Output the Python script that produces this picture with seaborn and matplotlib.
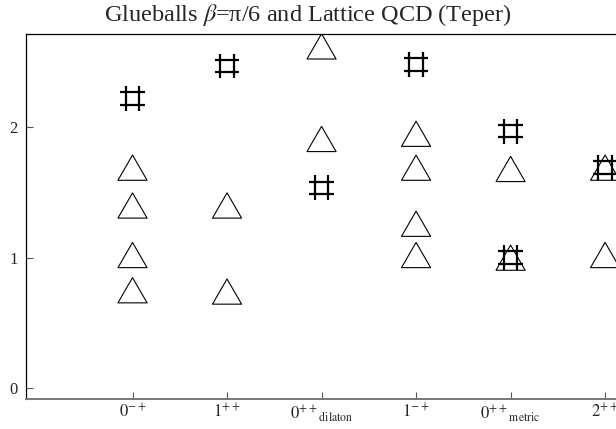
import numpy as np
import pandas as pd
import matplotlib
matplotlib.use("Agg")
import matplotlib.pyplot as plt
from matplotlib.path import Path
import seaborn as sns

# ---- data ----
categories = ["0-+", "1++", "0++dilaton", "1-+", "0++metric", "2++"]
tick_labels = [r"$0^{-+}$", r"$1^{++}$", r"$0^{++}{}_{\mathrm{dilaton}}$",
               r"$1^{-+}$", r"$0^{++}{}_{\mathrm{metric}}$", r"$2^{++}$"]

# Glueball masses (triangles)
glue_cat = ["0-+", "0-+", "0-+", "0-+",
            "1++", "1++",
            "0++dilaton", "0++dilaton",
            "1-+", "1-+", "1-+", "1-+",
            "0++metric", "0++metric",
            "2++", "2++"]
glue_val = [1.69, 1.40, 1.02, 0.75,
            1.40, 0.74,
            2.62, 1.91,
            1.95, 1.69, 1.26, 1.02,
            1.68, 1.00,
            1.69, 1.02]

# Lattice QCD (Teper) (hash marks)
latt_cat = ["0-+", "1++", "0++dilaton", "1-+", "0++metric", "0++metric", "2++"]
latt_val = [2.22, 2.47, 1.535, 2.48, 1.97, 1.00, 1.69]

title = "Glueballs $\\beta$=\u03c0/6 and Lattice QCD (Teper)"

# ---- style ----
sns.set_theme(style="white")
plt.rcParams["font.family"] = ["Liberation Serif", "DejaVu Serif"]
plt.rcParams["mathtext.fontset"] = "stix"

pos = {c: i + 1 for i, c in enumerate(categories)}
glue = pd.DataFrame({"cat": glue_cat, "mass": glue_val})
glue["x"] = glue["cat"].map(pos)
latt = pd.DataFrame({"cat": latt_cat, "mass": latt_val})
latt["x"] = latt["cat"].map(pos)

tri = Path([(-1, -0.866), (1, -0.866), (0, 0.866), (-1, -0.866)],
           [Path.MOVETO, Path.LINETO, Path.LINETO, Path.CLOSEPOLY])
hv = 0.55
hh = 0.5
hash_path = Path([(-hv, -1), (-hv, 1), (hv, -1), (hv, 1),
                  (-1, -hh), (1, -hh), (-1, hh), (1, hh)],
                 [Path.MOVETO, Path.LINETO, Path.MOVETO, Path.LINETO,
                  Path.MOVETO, Path.LINETO, Path.MOVETO, Path.LINETO])

fig = plt.figure(figsize=(6.16, 4.29), dpi=100)
ax = fig.add_axes([26 / 616, 1 - 399 / 429, (624 - 26) / 616, (399 - 34) / 429])

sns.scatterplot(data=glue, x="x", y="mass", marker=tri, s=440,
                facecolors="none", edgecolors="black", linewidths=0.8,
                ax=ax, legend=False, zorder=3)
sns.scatterplot(data=latt, x="x", y="mass", marker=hash_path, s=320,
                facecolors="none", edgecolors="black", linewidths=1.6,
                ax=ax, legend=False, zorder=4)

ax.set_xlim(-0.127, 6.2)
ax.set_ylim(-0.084, 2.715)
ax.set_xticks(range(1, len(categories) + 1))
ax.set_xticklabels(tick_labels)
ax.set_yticks([0, 1, 2])
ax.set_yticklabels(["0", "1", "2"])
ax.set_xlabel("")
ax.set_ylabel("")

ax.tick_params(axis="x", direction="in", length=5, width=0.8, color="#555555",
               pad=3, labelsize=12, bottom=True)
ax.tick_params(axis="y", direction="in", length=5, width=0.8, color="#555555",
               pad=6, labelsize=12, left=True)

for side in ["left", "top"]:
    ax.spines[side].set_color("black")
    ax.spines[side].set_linewidth(0.9)
ax.spines["bottom"].set_color("#777777")
ax.spines["bottom"].set_linewidth(1.4)
ax.spines["right"].set_visible(False)

fig.text(0.5, 1 - 2 / 429, title, fontsize=17.5, ha="center", va="top")

fig.savefig("out.png", dpi=100)
